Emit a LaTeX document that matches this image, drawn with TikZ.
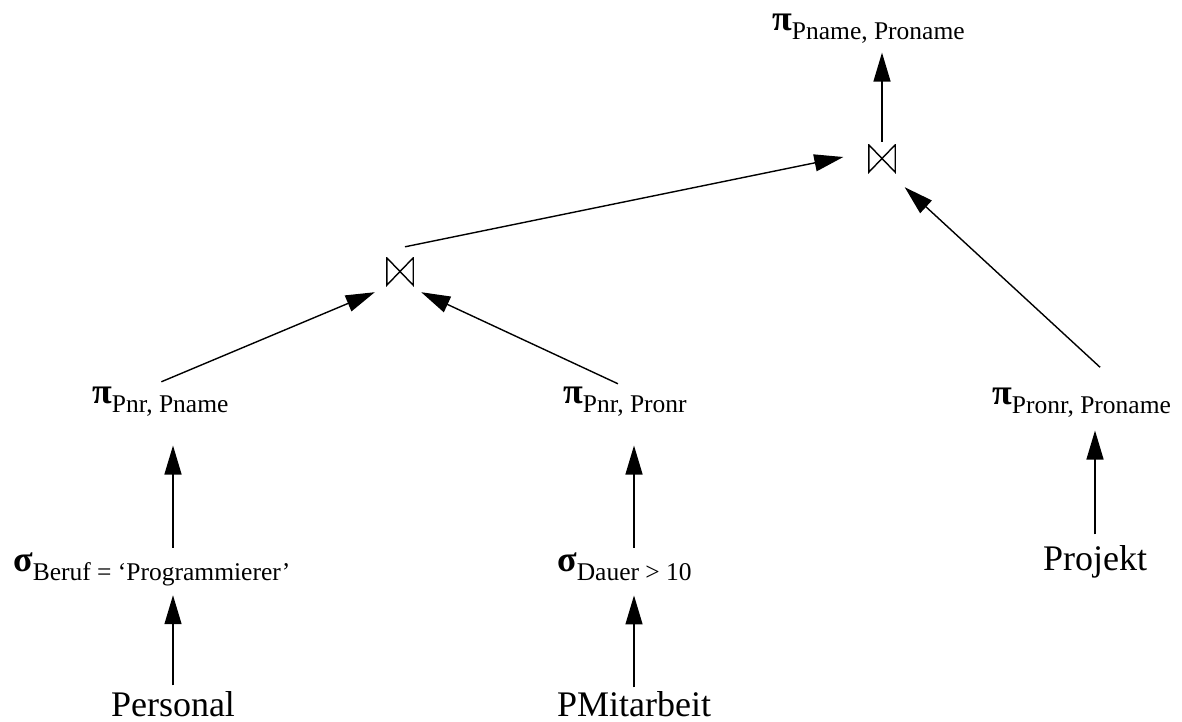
\documentclass[tikz,border=0pt]{standalone}
\usepackage{fontspec}
\setmainfont{Liberation Serif}
\usetikzlibrary{arrows.meta}
\newcommand\opsub[1]{\raisebox{-9pt}{\fontsize{25.5}{28}\selectfont #1}}
\newcommand\gk[1]{{\bfseries #1}}
\begin{document}
\begin{tikzpicture}[x=1pt,y=-1pt,
  lbl/.style={inner sep=0pt, anchor=base west, font=\fontsize{36}{40}\selectfont},
  rel/.style={inner sep=0pt, anchor=base, font=\fontsize{36}{40}\selectfont},
  arr/.style={line width=1.4pt, -{Triangle[length=29pt,width=17pt]}},
  bowtie/.style={minimum width=28pt, minimum height=29pt, inner sep=0pt,
    path picture={\draw[line width=1.4pt, line join=miter]
      ([shift={(0.8,0.8)}]path picture bounding box.north west) --
      ([shift={(0.8,-0.8)}]path picture bounding box.south west) --
      ([shift={(-0.8,0.8)}]path picture bounding box.north east) --
      ([shift={(-0.8,-0.8)}]path picture bounding box.south east) -- cycle;}}]
\useasboundingbox (0,0) rectangle (1182,721);
\node[lbl] (pTop) at (772,30) {\gk{π}\opsub{Pname, Proname}};
\node[lbl] (pL) at (92,403) {\gk{π}\opsub{Pnr, Pname}};
\node[lbl] (pM) at (563,403) {\gk{π}\opsub{Pnr, Pronr}};
\node[lbl] (pR) at (992,404) {\gk{π}\opsub{Pronr, Proname}};
\node[lbl] (sL) at (13,571) {\gk{σ}\opsub{Beruf = ‘Programmierer’}};
\node[lbl] (sM) at (557,571) {\gk{σ}\opsub{Dauer > 10}};
\node[rel] (Personal) at (173,716) {Personal};
\node[rel] (PMit) at (634,716) {PMitarbeit};
\node[rel] (Projekt) at (1095,570) {Projekt};
\node[bowtie] (j2) at (882,158.5) {};
\node[bowtie] (j1) at (400,271.5) {};
% vertical connectors
\draw[arr, shorten <=5.4pt, shorten >=9.5pt] (Personal.north) -- (Personal.north |- sL.south);
\draw[arr, shorten <=4.5pt, shorten >=29.4pt] (sL.north -| Personal.north) -- (Personal.north |- pL.south);
\draw[arr, shorten <=3.4pt, shorten >=15pt] (PMit.north) -- (PMit.north |- sM.south);
\draw[arr, shorten <=4.5pt, shorten >=29.4pt] (sM.north -| PMit.north) -- (PMit.north |- pM.south);
\draw[arr, shorten <=10.4pt, shorten >=13.4pt] (Projekt.north) -- (Projekt.north |- pR.south);
% diagonal connectors
\draw[arr] ([shift={(1,-4.5)}]pL.north) -- ([shift={(-11,6)}]j1.south west);
\draw[arr] ([shift={(-7,-2.5)}]pM.north) -- ([shift={(7,6)}]j1.south east);
\draw[arr] ([shift={(5,-10)}]j1.north) -- ([shift={(-24.5,-1.5)}]j2.west);
\draw[arr] ([shift={(18.5,-20)}]pR.north) -- ([shift={(8.5,14)}]j2.south east);
\draw[arr, shorten <=2pt, shorten >=9.5pt] (j2.north) -- (j2.north |- pTop.south);
\end{tikzpicture}
\end{document}
